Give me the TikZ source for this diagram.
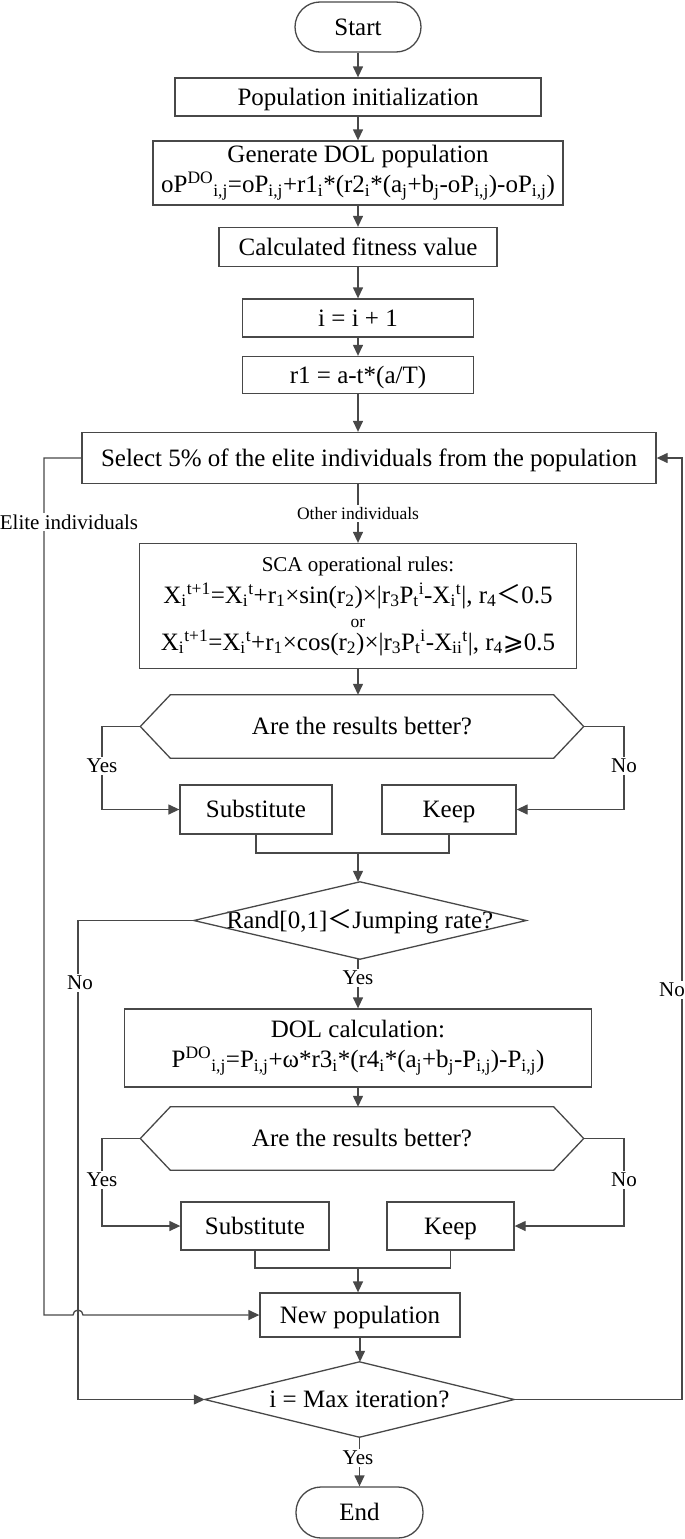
\documentclass[tikz,border=0pt]{standalone}
\usepackage{fontspec}
\setmainfont{Liberation Serif}
\newfontfamily\cjk{Noto Sans CJK SC}
\newfontfamily\dejavu{DejaVu Sans}
\usetikzlibrary{arrows.meta,positioning,calc}
\definecolor{linegray}{RGB}{72,72,72}
\newcommand{\mainsize}{\fontsize{25}{30}\selectfont}
\newcommand{\lblsize}{\fontsize{21}{25}\selectfont}
\newcommand{\smallsize}{\fontsize{17.5}{20}\selectfont}
\newcommand{\subs}[1]{\textsubscript{#1}}
\newcommand{\sups}[1]{\textsuperscript{#1}}
\tikzset{
  base/.style     = {font=\mainsize, align=center, inner sep=0pt, text=black},
  process/.style  = {base, draw=linegray, line width=1.3pt, rectangle},
  oneline/.style  = {text height=17pt, text depth=1pt},
  terminal/.style = {process, oneline, rounded corners=25pt},
  decision/.style = {base, rectangle},
  line/.style     = {draw=linegray, line width=1.3pt},
  arrow/.style    = {line, -{Triangle[length=11pt,width=10pt]}},
  lbl/.style      = {font=\lblsize, fill=white, inner sep=2pt},
  small lbl/.style = {font=\smallsize, fill=white, inner sep=2pt}
}
\begin{document}
\begin{tikzpicture}[x=1pt,y=-1pt]
\useasboundingbox (0,0) rectangle (685,1539);

% bus lines at the sides
\coordinate (elitex) at (44,0);
\coordinate (nox) at (78,0);
\coordinate (yesx) at (102,0);
\coordinate (nosidex) at (624,0);
\coordinate (backx) at (682,0);

% initialisation column
\node[terminal, minimum width=126pt, minimum height=50pt] (start) at (358,27) {Start};
\node[process, oneline, minimum width=366pt, minimum height=38pt] (init) at (358,97) {Population initialization};
\node[process, minimum width=410pt, minimum height=64pt] (dol) at (358,173)
  {Generate DOL population\\
   oP\sups{DO}\subs{i,j}=oP\subs{i,j}+r1\subs{i}*(r2\subs{i}*(a\subs{j}+b\subs{j}-oP\subs{i,j})-oP\subs{i,j})};
\node[process, oneline, minimum width=278pt, minimum height=39pt] (fit) at (358,247) {Calculated fitness value};
\node[process, oneline, minimum width=231pt, minimum height=38pt] (inc) at (358,318) {i = i + 1};
\node[process, oneline, minimum width=231pt, minimum height=37pt] (rone) at (358,375) {r1 = a-t*(a/T)};
\node[process, oneline, minimum width=574pt, minimum height=51pt] (select) at (369,458)
  {Select 5\% of the elite individuals from the population};

% SCA stage
\node[process, minimum width=437pt, minimum height=125pt] (sca) at (358,606)
  {{\lblsize SCA operational rules:}\\[2pt]
   X\subs{i}\sups{t+1}=X\subs{i}\sups{t}+r\subs{1}×sin(r\subs{2})×|r\subs{3}P\subs{t}\sups{i}-X\subs{i}\sups{t}|, r\subs{4}{\cjk ＜}0.5\\[-6pt]
   {\smallsize or}\\[-7pt]
   X\subs{i}\sups{t+1}=X\subs{i}\sups{t}+r\subs{1}×cos(r\subs{2})×|r\subs{3}P\subs{t}\sups{i}-X\subs{ii}\sups{t}|, r\subs{4}{\dejavu ⩾}0.5};
\node[decision, oneline, minimum width=443pt, minimum height=63pt] (hexone) at (362,726.5) {Are the results better?};
\node[process, oneline, minimum width=152pt, minimum height=49pt] (subone) at (256,809.5) {Substitute};
\node[process, oneline, minimum width=134pt, minimum height=49pt] (keepone) at (449,809.5) {Keep};
\coordinate (joinone) at (358,853);

% DOL stage
\node[decision, oneline, minimum width=332pt, minimum height=77pt] (rand) at (360,920.5)
  {Rand[0,1]{\cjk ＜}Jumping rate?};
\node[process, minimum width=467pt, minimum height=78pt] (dolc) at (358,1048)
  {DOL calculation:\\
   P\sups{DO}\subs{i,j}=P\subs{i,j}+ω*r3\subs{i}*(r4\subs{i}*(a\subs{j}+b\subs{j}-P\subs{i,j})-P\subs{i,j})};
\node[decision, oneline, minimum width=443pt, minimum height=63pt] (hextwo) at (362,1138.5) {Are the results better?};
\node[process, oneline, minimum width=148pt, minimum height=48pt] (subtwo) at (255,1226) {Substitute};
\node[process, oneline, minimum width=127pt, minimum height=48pt] (keeptwo) at (450.5,1226) {Keep};
\coordinate (jointwo) at (358,1268);

% end of the iteration
\node[process, oneline, minimum width=200pt, minimum height=44pt] (newpop) at (360,1315) {New population};
\node[decision, oneline, minimum width=309pt, minimum height=75pt] (maxit) at (359.5,1399.5) {i = Max iteration?};
\node[terminal, minimum width=127pt, minimum height=51pt] (end) at (359.5,1512.5) {End};

% outlines of the decisions
\foreach \h in {hexone, hextwo}
  \draw[line] ([xshift=30pt]\h.north west) -- ([xshift=-30pt]\h.north east) -- (\h.east)
    -- ([xshift=-30pt]\h.south east) -- ([xshift=30pt]\h.south west) -- (\h.west) -- cycle;
\foreach \d in {rand, maxit}
  \draw[line] (\d.north) -- (\d.east) -- (\d.south) -- (\d.west) -- cycle;

% main flow
\foreach \a/\b in {start/init, init/dol, dol/fit, fit/inc, inc/rone}
  \draw[arrow] (\a) -- (\b);
\draw[arrow] (rone) -- (rone |- select.north);
\draw[arrow] (sca.north |- select.south) -- node[small lbl] (other) {Other individuals} (sca.north);
\draw[arrow] (sca) -- (hexone.north -| sca);
\draw[arrow] (joinone) -- (rand.north -| joinone);
\draw[arrow] (rand.south -| dolc) -- (dolc);
\draw[arrow] (dolc) -- (hextwo.north -| dolc);
\draw[arrow] (jointwo) -- (newpop.north -| jointwo);
\draw[arrow] (newpop) -- (maxit.north -| newpop);
\draw[arrow] (maxit) -- (end);

% yes / no branches
\foreach \h/\s/\k in {hexone/subone/keepone, hextwo/subtwo/keeptwo} {
  \draw[arrow] (\h.west) -- (\h.west -| yesx) |- (\s.west);
  \draw[arrow] (\h.east) -- (\h.east -| nosidex) |- (\k.east);
}
\draw[line] (subone.south) |- (joinone) -| (keepone.south);
\draw[line] (subtwo.south) |- (jointwo) -| (keeptwo.south);

% elite individuals go straight to the new population
\draw[arrow] (select.west) -- (select.west -| elitex) -- (newpop.west -| elitex)
  -- ($(newpop.west -| nox)+(-5pt,0)$) arc[start angle=180, end angle=0, radius=5pt] -- (newpop.west);
\draw[arrow] (rand.west) -- (rand.west -| nox) |- (maxit.west);
\draw[arrow] (maxit.east) -- (maxit.east -| backx) |- (select.east);

% labels on the connectors
\node[lbl] (elite) at (69,522) {Elite individuals};
\node[lbl] (yesone) at (102,766) {Yes};
\node[lbl] (noone) at (624,766) {No};
\node[lbl] (norand) at (80,983) {No};
\node[lbl] (yesrand) at (358,978) {Yes};
\node[lbl] (noback) at (672,990) {No};
\node[lbl] (yestwo) at (102,1180) {Yes};
\node[lbl] (notwo) at (624,1180) {No};
\node[lbl] (yesmax) at (358,1458) {Yes};

\end{tikzpicture}
\end{document}
